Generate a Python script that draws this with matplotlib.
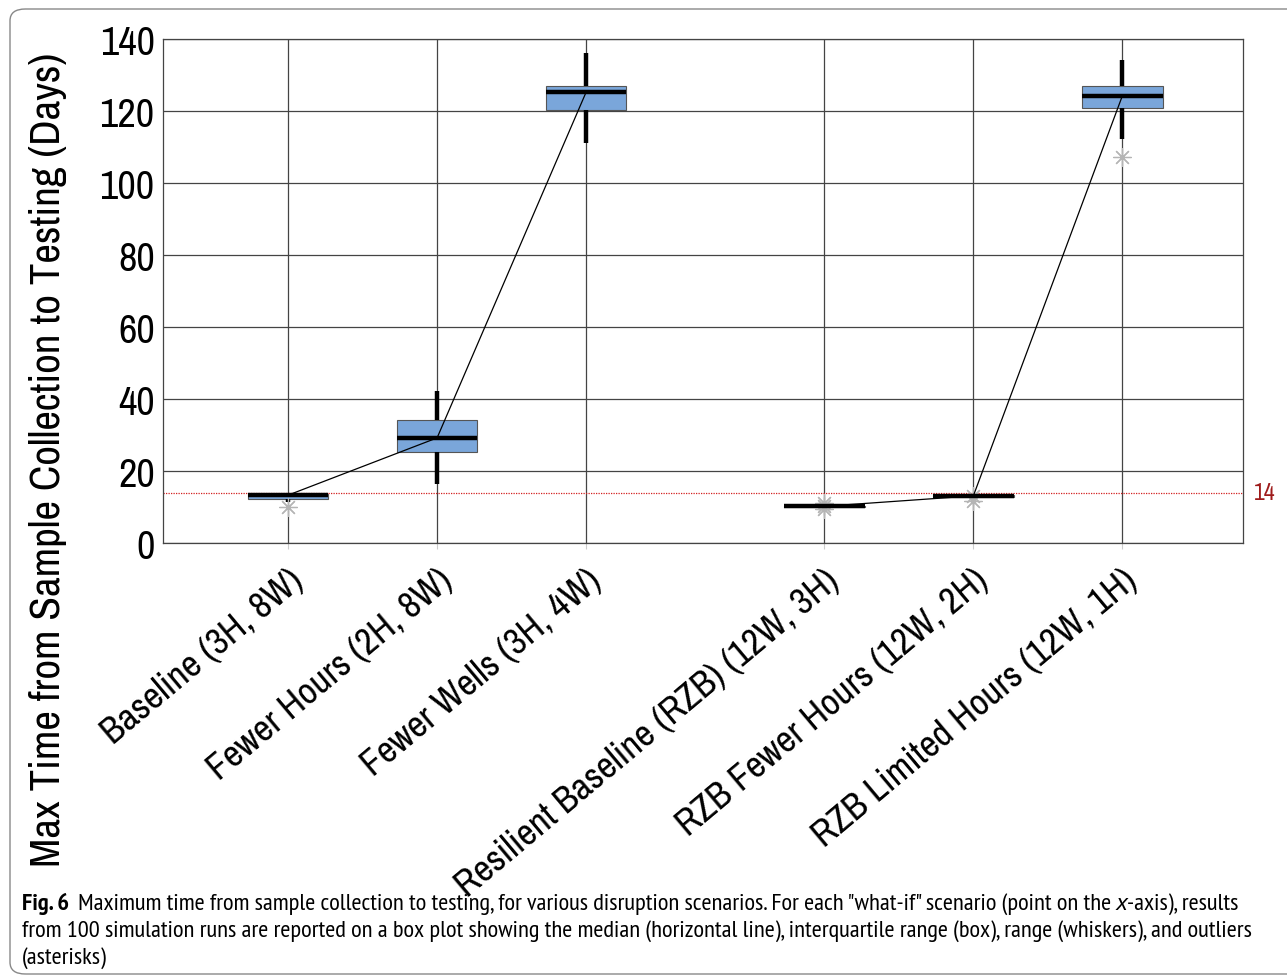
import matplotlib
matplotlib.use('Agg')
import matplotlib.pyplot as plt
from matplotlib.patches import FancyBboxPatch

W, H = 1287, 979

# data
scenarios = ['Baseline (3H, 8W)', 'Fewer Hours (2H, 8W)', 'Fewer Wells (3H, 4W)',
             'Resilient Baseline (RZB) (12W, 3H)', 'RZB Fewer Hours (12W, 2H)',
             'RZB Limited Hours (12W, 1H)']
positions = [0, 1, 2, 3.6, 4.6, 5.6]
medians = [13.3, 29.2, 125.2, 10.2, 13.1, 124.2]
q1 = [12.3, 25.4, 120.3, 10.0, 12.9, 120.9]
q3 = [13.5, 34.1, 127.0, 10.3, 13.3, 126.9]
whislo = [11.4, 16.3, 111.2, 10.0, 12.9, 112.2]
whishi = [13.6, 42.2, 136.0, 10.3, 13.3, 134.2]
outliers = [[10.0], [], [], [9.4, 10.3, 11.1], [11.8, 13.0], [107.1]]
threshold = 14

main_font = ['Archivo Narrow', 'Liberation Sans', 'DejaVu Sans']
cap_font = ['PT Sans Narrow', 'Liberation Sans', 'DejaVu Sans']

fig = plt.figure(figsize=(W / 100, H / 100), dpi=100)
ax = fig.add_axes([163 / W, 1 - 544 / H, (1243 - 163) / W, (544 - 40) / H])

stats = []
for i in range(len(scenarios)):
    stats.append({'med': medians[i], 'q1': q1[i], 'q3': q3[i],
                  'whislo': whislo[i], 'whishi': whishi[i], 'fliers': outliers[i]})

ax.bxp(stats, positions=positions, widths=0.54, patch_artist=True, showcaps=False,
       boxprops=dict(facecolor='#7aa6da', edgecolor='#555555', linewidth=0.8),
       medianprops=dict(color='black', linewidth=3.2, solid_capstyle='butt'),
       whiskerprops=dict(color='black', linewidth=3.2, solid_capstyle='butt'),
       flierprops=dict(marker=(8, 2, 0), markeredgecolor='#b5b5b5', markerfacecolor='none',
                       markersize=13, markeredgewidth=0.9, linestyle='none'),
       zorder=3)

# lines through the medians of each group
ax.plot(positions[:3], medians[:3], color='black', linewidth=0.9, zorder=4)
ax.plot(positions[3:], medians[3:], color='black', linewidth=0.9, zorder=4)

ax.axhline(threshold, color='#d42020', linestyle=(0, (1, 1)), linewidth=0.9, zorder=2)
ax.text(1.01, threshold, str(threshold), transform=ax.get_yaxis_transform(),
        color='#9e1b1b', fontsize=17, va='center', ha='left', family=main_font)

ax.set_xlim(-0.84, 6.41)
ax.set_ylim(0, 140)
ax.set_yticks(range(0, 141, 20))
ax.set_xticks(positions)
ax.set_xticklabels(scenarios, rotation=40, ha='right', va='top', rotation_mode='anchor',
                   fontsize=27, family=main_font)
for lab in ax.get_yticklabels():
    lab.set_family(main_font)
ax.tick_params(axis='y', labelsize=29, length=0, pad=6)
ax.tick_params(axis='x', length=4, color='#cccccc', pad=10)
ax.grid(True, color='#444444', linewidth=0.9)
ax.set_axisbelow(True)
for s in ax.spines.values():
    s.set_color('#444444')
    s.set_linewidth(0.9)

fig.text(48 / W, 1 - 460 / H, 'Max Time from Sample Collection to Testing (Days)',
         rotation=90, ha='center', va='center', fontsize=31, family=main_font)

# outer frame
frame = FancyBboxPatch((10 / W, 4 / H), 1.05, (975 - 10) / H,
                       boxstyle='round,pad=0,rounding_size=0.012',
                       transform=fig.transFigure, facecolor='none',
                       edgecolor='#888888', linewidth=1.0)
fig.patches.append(frame)

# caption
renderer = fig.canvas.get_renderer()
line2 = ('from 100 simulation runs are reported on a box plot showing the median '
         '(horizontal line), interquartile range (box), range (whiskers), and outliers')
probe = fig.text(0, 0, line2, fontsize=15, family=cap_font)
cap_size = 15 * 1231 / probe.get_window_extent(renderer).width
probe.remove()


def draw_runs(x_px, y_px, runs):
    x = x_px
    for txt, kw, gap in runs:
        fam = kw.pop('family', cap_font)
        t = fig.text(x / W, 1 - y_px / H, txt, fontsize=cap_size, va='baseline',
                     ha='left', family=fam, **kw)
        x += t.get_window_extent(renderer).width + gap


draw_runs(22, 910, [('Fig. 6', dict(fontweight='bold'), 9),
                    ('Maximum time from sample collection to testing, for various disruption '
                     'scenarios. For each "what-if" scenario (point on the', {}, 4),
                    ('x', dict(fontstyle='italic', family=['PT Sans', 'DejaVu Sans']), 0),
                    ('-axis), results', {}, 0)])
draw_runs(22, 937, [(line2, {}, 0)])
draw_runs(22, 964, [('(asterisks)', {}, 0)])

fig.savefig('out.png', dpi=100)
